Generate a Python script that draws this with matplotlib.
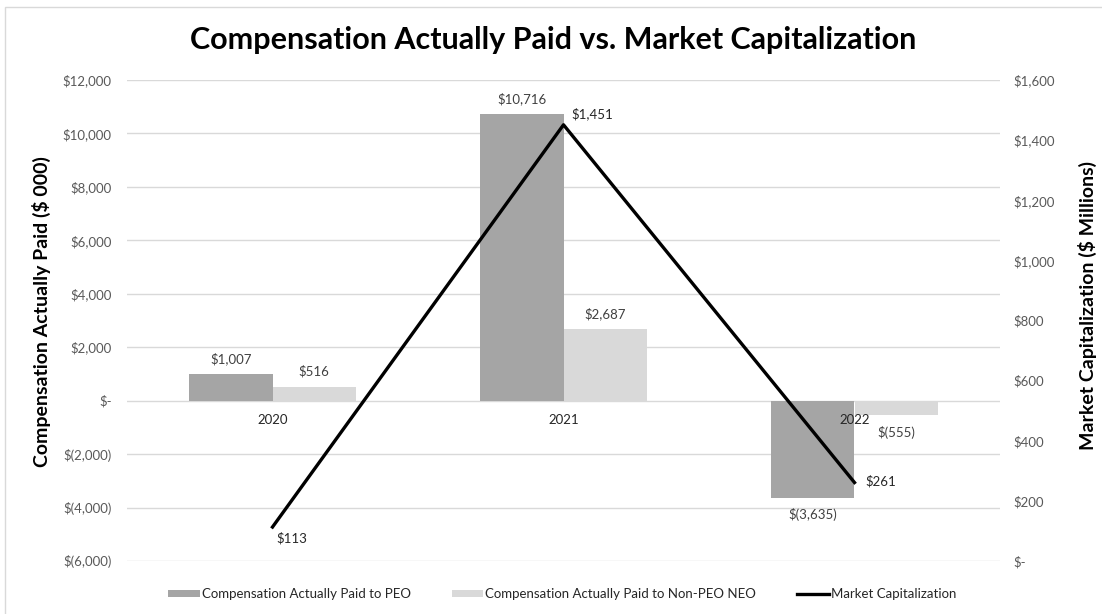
import matplotlib
matplotlib.use("Agg")
import matplotlib.pyplot as plt
from matplotlib.lines import Line2D
from matplotlib.patches import Patch, Rectangle
import numpy as np

plt.rcParams['font.family'] = ['Lato', 'DejaVu Sans']

years = ["2020", "2021", "2022"]
cap_peo = [1007, 10716, -3635]
cap_non_peo = [516, 2687, -555]
market_cap = [113, 1451, 261]
left_ticks = [-6000, -4000, -2000, 0, 2000, 4000, 6000, 8000, 10000, 12000]
right_ticks = [0, 200, 400, 600, 800, 1000, 1200, 1400, 1600]

def fmt_money(v):
    if v == 0:
        return "$-"
    if v < 0:
        return "$({:,})".format(-v)
    return "${:,}".format(v)

W, H = 1102, 614
fig = plt.figure(figsize=(W / 100, H / 100), dpi=100)
ax = fig.add_axes([127 / W, 1 - 561 / H, 873 / W, 481 / H])
ax2 = ax.twinx()

c_peo = "#a5a5a5"
c_non = "#d9d9d9"
grid_c = "#d9d9d9"
tick_c = "#595959"
lab_c = "#404040"

x = np.arange(len(years))
bw = 0.287
ax.bar(x - bw / 2, cap_peo, width=bw, color=c_peo, zorder=2)
ax.bar(x + bw / 2, cap_non_peo, width=bw, color=c_non, zorder=2)
ax.set_xlim(-0.5, len(years) - 0.5)
ax.set_ylim(-6000, 12000)
ax.set_yticks(left_ticks)
ax.set_yticklabels([fmt_money(v) for v in left_ticks], color=tick_c, fontsize=9.5)
ax.yaxis.grid(True, color=grid_c, linewidth=1, zorder=0)
ax.set_axisbelow(True)
ax.tick_params(axis='y', length=0, pad=11)
ax.set_xticks([])
for s in ax.spines.values():
    s.set_visible(False)

# category labels just below zero line
for i, yr in enumerate(years):
    ax.annotate(yr, (x[i], 0), xytext=(0, -14), textcoords='offset points',
                ha='center', va='center', fontsize=9.5, color='#262626', zorder=5)

# bar data labels
for i in range(len(years)):
    for xv, v in ((x[i] - bw / 2, cap_peo[i]), (x[i] + bw / 2, cap_non_peo[i])):
        off = 11 if v >= 0 else -12
        ax.annotate(fmt_money(v), (xv, v), xytext=(0, off), textcoords='offset points',
                    ha='center', va='center', fontsize=9.5, color=lab_c, zorder=5)

ax2.plot(x, market_cap, color='black', linewidth=2.4, zorder=4)
ax2.set_ylim(0, 1600)
ax2.set_yticks(right_ticks)
ax2.set_yticklabels([fmt_money(v) for v in right_ticks], color=tick_c, fontsize=9.5)
ax2.tick_params(axis='y', length=0, pad=9.5)
for s in ax2.spines.values():
    s.set_visible(False)

line_offsets = [(3, -8), (6, 8), (8, 1)]
for i, v in enumerate(market_cap):
    ax2.annotate(fmt_money(v), (x[i], v), xytext=line_offsets[i], textcoords='offset points',
                 ha='left', va='center', fontsize=9.5, color='#262626', zorder=5)

fig.text(553 / W, 1 - 40 / H, "Compensation Actually Paid vs. Market Capitalization",
         ha='center', va='center', fontsize=22, fontweight='bold', color='black')
fig.text(41 / W, 1 - 312 / H, "Compensation Actually Paid ($ 000)", rotation=90,
         ha='center', va='center', fontsize=14, fontweight='bold', color='black')
fig.text(1087 / W, 1 - 305 / H, "Market Capitalization ($ Millions)", rotation=90,
         ha='center', va='center', fontsize=14, fontweight='bold', color='black')

handles = [Patch(facecolor=c_peo, edgecolor='none'),
           Patch(facecolor=c_non, edgecolor='none'),
           Line2D([0], [0], color='black', linewidth=2.4)]
labels = ["Compensation Actually Paid to PEO",
          "Compensation Actually Paid to Non-PEO NEO",
          "Market Capitalization"]
fig.legend(handles, labels, loc='center', bbox_to_anchor=(562 / W, 1 - 594 / H), ncol=3,
           frameon=False, fontsize=9.5, handlelength=2.4, handleheight=0.4,
           columnspacing=3.1, handletextpad=0.15, labelcolor='#262626')

fig.patches.append(Rectangle((5 / W, -0.05), 1.2, 1 - 7 / H + 0.05, transform=fig.transFigure,
                             fill=False, edgecolor='#d9d9d9', linewidth=1))

fig.savefig("out.png", dpi=100, facecolor='white')
